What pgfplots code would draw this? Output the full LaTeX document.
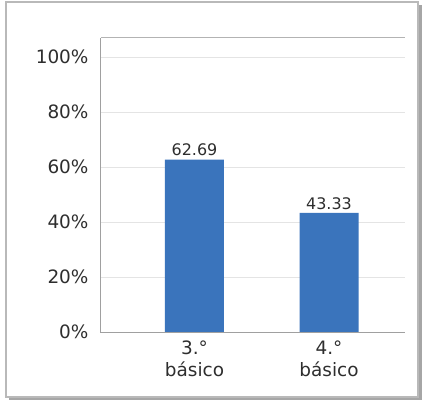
\documentclass[border=0pt]{standalone}
\usepackage{pgfplots}
\pgfplotsset{compat=1.18}
\usepackage{fontspec}
\setmainfont{DejaVu Sans}
\definecolor{barblue}{HTML}{3A74BC}
\definecolor{txt}{HTML}{2E2E2E}
\definecolor{gridc}{HTML}{E4E4E4}
\definecolor{axc}{HTML}{A0A0A0}
\begin{document}
\begin{tikzpicture}
\useasboundingbox (-101bp,-70bp) rectangle (321bp,332bp);
\fill[gray!70] (-92bp,-68bp) rectangle (321bp,327bp);
\filldraw[fill=white, draw=gray!55, line width=1.2bp] (-95bp,-65bp) rectangle (317bp,330bp);
\begin{axis}[
  scale only axis,
  width=304bp, height=294bp,
  xmin=-0.695, xmax=1.565,
  ymin=0, ymax=106.9,
  clip=false,
  axis line style={draw=none},
  ytick={0,20,40,60,80,100},
  yticklabel={\pgfmathprintnumber{\tick}\%},
  xtick={0,1},
  xticklabels={{3.°\\básico},{4.°\\básico}},
  xticklabel style={align=center, font=\fontsize{18.5}{22}\selectfont, text=txt, yshift=-5bp},
  yticklabel style={font=\fontsize{18.5}{20}\selectfont, text=txt, xshift=-9bp},
  /pgf/number format/assume math mode=true,
  major tick length=0pt,
  ymajorgrids,
  grid style={gridc, line width=0.8bp},
  ybar, bar width=59bp,
  nodes near coords,
  nodes near coords style={font=\fontsize{16}{18}\selectfont, text=txt, /pgf/number format/.cd, fixed, fixed zerofill, precision=2},
  enlarge x limits=false,
]
\addplot[fill=barblue, draw=none] coordinates {(0,62.69) (1,43.33)};
\draw[axc, line width=1bp] (rel axis cs:0,1) -- (rel axis cs:0,0) -- (rel axis cs:1,0);
\draw[axc!80, line width=1bp] (rel axis cs:0,1) -- (rel axis cs:1,1);
\end{axis}
\end{tikzpicture}
\end{document}
